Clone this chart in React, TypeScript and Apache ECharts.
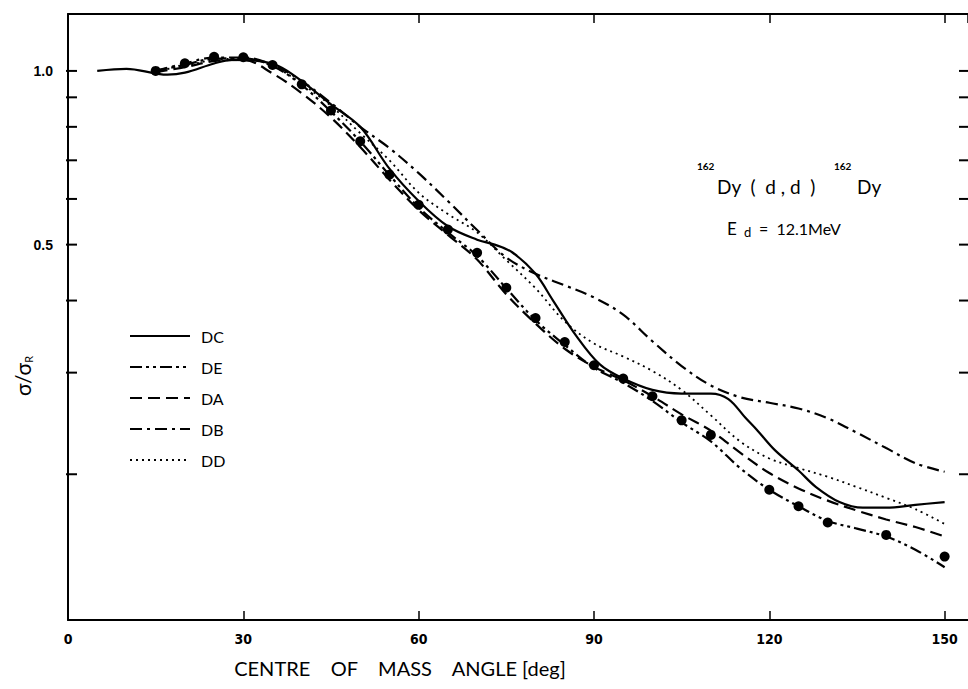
import React, { useEffect, useRef } from "react";
import * as echarts from "echarts";

// ---- Data ----
const xTickValues = [0, 30, 60, 90, 120, 150];
const yTickValues = [0.2, 0.3, 0.4, 0.5, 0.6, 0.7, 0.8, 0.9, 1.0];
const yTickLabels = ["", "", "", "0.5", "", "", "", "", "1.0"];

const seriesNames = ["DC", "DE", "DA", "DB", "DD"];

const dcAngles = [5, 10, 15, 17, 20, 25, 28, 32, 36, 40, 45, 50, 55, 60, 65, 70, 73, 76, 80, 83, 87, 91, 95, 100, 105, 110, 113, 116, 118, 121, 125, 128, 132, 136, 140, 145, 150];
const dcValues = [1.0, 1.008, 0.99, 0.985, 0.993, 1.03, 1.045, 1.042, 1.02, 0.96, 0.875, 0.8, 0.677, 0.595, 0.538, 0.51, 0.5, 0.485, 0.445, 0.4, 0.347, 0.31, 0.293, 0.28, 0.276, 0.276, 0.27, 0.25, 0.238, 0.22, 0.203, 0.19, 0.179, 0.175, 0.175, 0.177, 0.179];

const modelAngles = [15, 20, 25, 30, 35, 40, 45, 50, 55, 60, 65, 70, 75, 80, 85, 90, 95, 100, 105, 110, 115, 120, 125, 130, 135, 140, 145, 150];
const deValues = [1.0, 1.025, 1.05, 1.052, 1.02, 0.945, 0.85, 0.755, 0.66, 0.58, 0.525, 0.478, 0.42, 0.37, 0.335, 0.306, 0.288, 0.268, 0.246, 0.228, 0.205, 0.188, 0.176, 0.166, 0.161, 0.156, 0.148, 0.138];
const daValues = [0.995, 1.015, 1.04, 1.045, 0.99, 0.915, 0.83, 0.738, 0.648, 0.574, 0.52, 0.471, 0.41, 0.365, 0.33, 0.307, 0.291, 0.273, 0.254, 0.238, 0.218, 0.201, 0.189, 0.18, 0.173, 0.167, 0.162, 0.156];
const dbValues = [1.0, 1.03, 1.055, 1.055, 1.025, 0.96, 0.88, 0.8, 0.735, 0.665, 0.595, 0.53, 0.475, 0.445, 0.425, 0.405, 0.378, 0.34, 0.308, 0.285, 0.272, 0.266, 0.26, 0.25, 0.236, 0.222, 0.209, 0.202];
const ddValues = [1.0, 1.02, 1.045, 1.05, 1.02, 0.95, 0.87, 0.78, 0.7, 0.615, 0.565, 0.525, 0.47, 0.42, 0.368, 0.337, 0.32, 0.302, 0.28, 0.253, 0.228, 0.213, 0.205, 0.198, 0.19, 0.182, 0.174, 0.164];

const expAngles = [15, 20, 25, 30, 35, 40, 45, 50, 55, 60, 65, 70, 75, 80, 85, 90, 95, 100, 105, 110, 120, 125, 130, 140, 150];
const expValues = [1.0, 1.031, 1.058, 1.056, 1.024, 0.948, 0.854, 0.755, 0.661, 0.586, 0.531, 0.484, 0.421, 0.373, 0.339, 0.309, 0.293, 0.273, 0.248, 0.234, 0.188, 0.176, 0.165, 0.157, 0.144];

const X_MIN = 0;
const X_MAX = 154;
const Y_MIN = 0.1118;
const Y_MAX = 1.255;

const INK = "#000";
const SANS = "Lato, 'Open Sans', sans-serif";

function pairs(xs: number[], ys: number[]) {
  return xs.map((x, i) => [x, ys[i]]);
}

export default function App() {
  const ref = useRef<HTMLDivElement>(null);

  useEffect(() => {
    if (!ref.current) return;
    const chart = echarts.init(ref.current, undefined, { renderer: "svg" });

    const lineSeries = (name: string, data: number[][], type: any, width = 2.2) => ({
      type: "line",
      name,
      data,
      symbol: "none",
      showSymbol: false,
      smooth: 0.35,
      clip: true,
      lineStyle: { color: INK, width, type },
      itemStyle: { color: INK },
      z: 3,
    });

    const xAxisBase = {
      type: "value",
      min: X_MIN,
      max: X_MAX,
      interval: 30,
      splitLine: { show: false },
      axisLine: { show: true, onZero: false, lineStyle: { color: INK, width: 2 } },
      axisTick: { show: true, inside: true, length: 9, lineStyle: { color: INK, width: 1.5 } },
    };

    const option: any = {
      animation: false,
      backgroundColor: "#fff",
      grid: { left: 68, right: -2, top: 14, bottom: 69, containLabel: false },
      xAxis: [
        {
          ...xAxisBase,
          position: "bottom",
          axisLabel: {
            color: INK,
            fontSize: 14,
            margin: 12,
            showMaxLabel: false,
            fontFamily: "'Liberation Sans Narrow', 'DejaVu Sans Condensed', sans-serif",
            fontWeight: "bold",
            formatter: (v: number) => (xTickValues.includes(v) ? String(v) : ""),
          },
        },
        {
          ...xAxisBase,
          position: "top",
          axisLabel: { show: false },
        },
      ],
      yAxis: {
        type: "log",
        min: Y_MIN,
        max: Y_MAX,
        splitLine: { show: false },
        axisLine: { show: true, onZero: false, lineStyle: { color: INK, width: 2 } },
        axisTick: { show: false },
        axisLabel: { show: false },
        minorTick: { show: false },
      },
      legend: {
        data: seriesNames,
        orient: "vertical",
        left: 124,
        top: 323,
        itemWidth: 60,
        itemHeight: 14,
        itemGap: 15,
        selectedMode: false,
        itemStyle: { opacity: 0, borderWidth: 0 },
        textStyle: { fontSize: 16, color: INK, fontFamily: SANS, padding: [0, 0, 0, 6] },
      },
      graphic: [
        {
          type: "text",
          x: 22,
          y: 376,
          rotation: Math.PI / 2,
          style: {
            text: "{a|σ/σ}{b|R}",
            align: "center",
            verticalAlign: "middle",
            rich: {
              a: { fontSize: 21, fontFamily: SANS, fill: INK, lineHeight: 24 },
              b: { fontSize: 11, fontFamily: SANS, fill: INK, verticalAlign: "bottom", lineHeight: 14 },
            },
          },
        },
        {
          type: "text",
          x: 400,
          y: 668,
          style: {
            text: "CENTRE    OF    MASS    ANGLE [deg]",
            fontSize: 20,
            fontFamily: SANS,
            fill: INK,
            align: "center",
            verticalAlign: "middle",
          },
        },
        { type: "text", x: 697, y: 166, style: { text: "162", fontSize: 10, fontFamily: SANS, fontWeight: "bold", fill: INK, verticalAlign: "middle" } },
        { type: "text", x: 717, y: 186, style: { text: "Dy  (  d , d  )", fontSize: 19, fontFamily: SANS, fill: INK, verticalAlign: "middle" } },
        { type: "text", x: 834, y: 166, style: { text: "162", fontSize: 10, fontFamily: SANS, fontWeight: "bold", fill: INK, verticalAlign: "middle" } },
        { type: "text", x: 857, y: 186, style: { text: "Dy", fontSize: 19, fontFamily: SANS, fill: INK, verticalAlign: "middle" } },
        { type: "text", x: 727, y: 228, style: { text: "E", fontSize: 17, fontFamily: SANS, fill: INK, verticalAlign: "middle" } },
        { type: "text", x: 744, y: 232, style: { text: "d", fontSize: 13, fontFamily: SANS, fill: INK, verticalAlign: "middle" } },
        { type: "text", x: 759, y: 228, style: { text: "=  12.1MeV", fontSize: 16, fontFamily: SANS, fill: INK, verticalAlign: "middle" } },
      ],
      series: [
        lineSeries("DC", pairs(dcAngles, dcValues), "solid", 2.2),
        lineSeries("DE", pairs(modelAngles, deValues), [12, 4, 3, 4, 3, 4], 2.2),
        lineSeries("DA", pairs(modelAngles, daValues), [12, 6], 2.2),
        lineSeries("DB", pairs(modelAngles, dbValues), [12, 5, 3, 5], 2.2),
        lineSeries("DD", pairs(modelAngles, ddValues), [2, 4], 1.8),
        {
          type: "scatter",
          name: "data",
          data: pairs(expAngles, expValues),
          symbol: "circle",
          symbolSize: 10,
          itemStyle: { color: INK, opacity: 1 },
          z: 4,
        },
        {
          type: "custom",
          name: "yticks",
          silent: true,
          clip: false,
          data: yTickValues.map((v) => [X_MIN, v]),
          encode: { x: 0, y: 1 },
          z: 5,
          renderItem: (params: any, api: any) => {
            const v = api.value(1);
            const l = api.coord([X_MIN, v]);
            const r = api.coord([X_MAX, v]);
            const label = yTickLabels[params.dataIndex];
            const children: any[] = [
              { type: "line", shape: { x1: l[0] - 2, y1: l[1], x2: l[0] + 9, y2: l[1] }, style: { stroke: INK, lineWidth: 2 } },
              { type: "line", shape: { x1: r[0] - 9, y1: r[1], x2: r[0], y2: r[1] }, style: { stroke: INK, lineWidth: 2 } },
            ];
            if (label) {
              children.push({
                type: "text",
                style: {
                  text: label,
                  x: l[0] - 15,
                  y: l[1],
                  align: "right",
                  verticalAlign: "middle",
                  fontSize: 14,
                  fontWeight: "bold",
                  fontFamily: "'Liberation Sans', sans-serif",
                  fill: INK,
                },
              });
            }
            return { type: "group", children };
          },
        },
      ],
    };

    chart.setOption(option);
    return () => chart.dispose();
  }, []);

  return (
    <div
      ref={ref}
      style={{ position: "absolute", left: 0, top: 0, width: 968, height: 689, background: "#fff" }}
    />
  );
}
